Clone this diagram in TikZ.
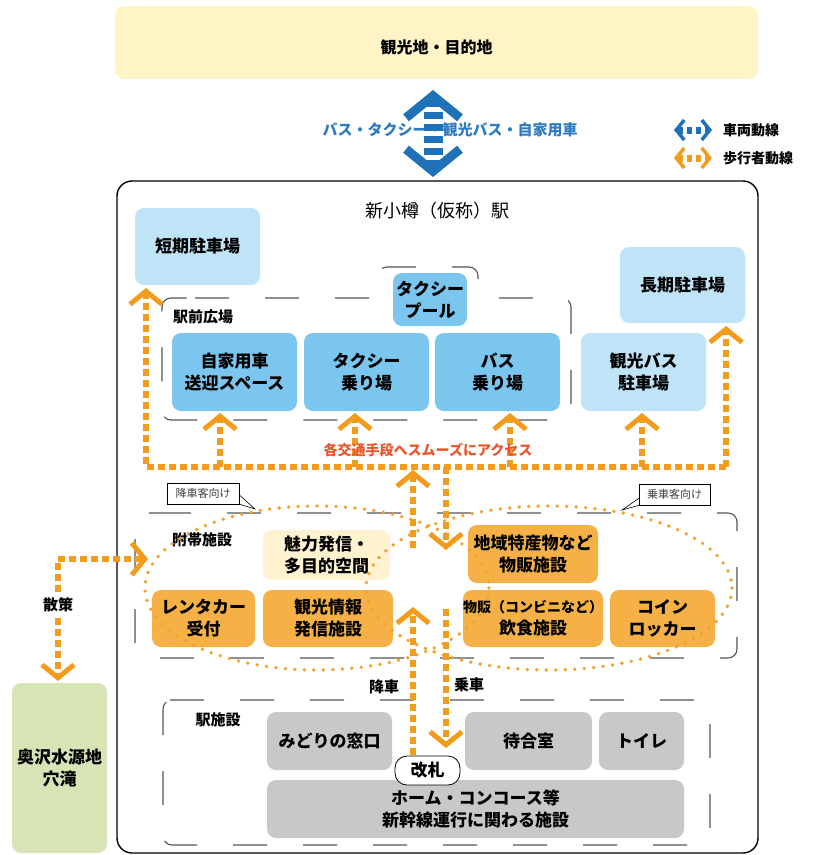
\documentclass[tikz,border=0pt]{standalone}
\usepackage{fontspec}
\setmainfont{Noto Sans CJK JP}
\usetikzlibrary{arrows.meta}
\definecolor{topy}{HTML}{FFF4C6}
\definecolor{lblue}{HTML}{BFE3F7}
\definecolor{mblue}{HTML}{7AC6EE}
\definecolor{orbox}{HTML}{F5B146}
\definecolor{lyel}{HTML}{FFF2CF}
\definecolor{grayb}{HTML}{C8C8C8}
\definecolor{greenb}{HTML}{D6E4B6}
\definecolor{pedc}{HTML}{F39B1C}
\definecolor{vehc}{HTML}{1F72B8}
\definecolor{vtext}{HTML}{2E7BC0}
\definecolor{acc}{HTML}{E8562C}
\definecolor{dotc}{HTML}{F2A22C}
\definecolor{grpc}{HTML}{555555}
\newcommand\bxf{\fontsize{17}{22}\selectfont\bfseries}
\newcommand\lbf{\fontsize{15}{18}\selectfont\bfseries}
\begin{document}
\begin{tikzpicture}[x=1pt,y=-1pt,
  bx/.style={rounded corners=9pt, inner sep=0pt, align=center, font=\bxf, text=black},
  grp/.style={draw=grpc, line width=1.1pt, dash pattern=on 34pt off 36pt, rounded corners=9pt},
  ped/.style={draw=pedc, line width=6.5pt, dash pattern=on 7pt off 4pt},
  ptip/.tip={Straight Barb[length=13pt,width=32pt,line width=5pt]},
  vtip/.tip={Straight Barb[length=22pt,width=54pt,line width=9pt]},
  ltip/.tip={Straight Barb[length=8pt,width=20pt,line width=3.5pt]},
  dots/.style={draw=dotc, line width=3.8pt, line cap=round, dash pattern=on 0pt off 9.5pt},
  lbl/.style={font=\lbf, inner sep=0pt},
  callout/.style={draw=black, fill=white, line width=0.6pt, font=\fontsize{11}{13}\selectfont, text=black!75, inner sep=0pt, minimum height=21pt}
]
\useasboundingbox (0,0) rectangle (828,855);

% top destination
\node[bx, fill=topy, minimum width=643pt, minimum height=73pt] (dest) at (436.5,42.5) {};
\node[font=\fontsize{16}{19}\selectfont\bfseries, inner sep=0pt] (destt) at (436.5,47) {観光地・目的地};

% blue vehicle text + arrow
\node[font=\fontsize{15}{18}\selectfont\bfseries, text=vtext, inner sep=0pt] (vlab) at (450,130) {バス・タクシー・観光バス・自家用車};
\coordinate (vt) at (433,90);
\coordinate (vb) at (433,177);
\draw[draw=vehc, line width=19pt, dash pattern=on 7pt off 5pt, {vtip}-{vtip}] (vt) -- (vb);

% legend
\coordinate (lb1) at (674,130); \coordinate (lb2) at (712,130);
\coordinate (lo1) at (674,158); \coordinate (lo2) at (712,158);
\draw[draw=vehc, line width=7pt, dash pattern=on 5pt off 4pt, {ltip}-{ltip}] (lb1) -- (lb2);
\draw[draw=pedc, line width=7pt, dash pattern=on 5pt off 4pt, {ltip}-{ltip}] (lo1) -- (lo2);
\node[anchor=west, font=\fontsize{14}{17}\selectfont\bfseries, inner sep=0pt] (leg1) at (723,130) {車両動線};
\node[anchor=west, font=\fontsize{14}{17}\selectfont\bfseries, inner sep=0pt] (leg2) at (723,158) {歩行者動線};

% station frame
\draw[line width=1.4pt, rounded corners=15pt] (117,181) rectangle (758,853);
\node[font=\fontsize{18}{22}\selectfont, inner sep=0pt] (title) at (437,211) {新小樽（仮称）駅};

% groups
\draw[grp] (195,298) -- (378,298) -- (378,267) -- (478,267) -- (478,298) -- (571,298) -- (571,420) -- (162,420) -- (162,298) -- (195,298);
\draw[grp] (157,513) -- (737,513) -- (737,658) -- (135,658) -- (135,513) -- (157,513);
\draw[grp] (170,700) -- (710,700) -- (710,845) -- (163,845) -- (163,700) -- (170,700);

\node[lbl] (lekimae) at (203,317) {駅前広場};
\node[lbl] (lfuku) at (202,540) {附帯施設};
\node[lbl] (leki) at (218,720) {駅施設};

% parking / plaza boxes
\node[bx, fill=lblue, minimum width=125pt, minimum height=77pt] (tanki) at (197.5,246.5) {短期駐車場};
\node[bx, fill=lblue, minimum width=125pt, minimum height=76pt] (choki) at (682.5,285) {長期駐車場};
\node[bx, fill=mblue, minimum width=74pt, minimum height=53pt] (pool) at (430,299.5) {タクシー\\プール};
\node[bx, fill=mblue, minimum width=125pt, minimum height=78pt] (jika) at (234.5,372) {自家用車\\送迎スペース};
\node[bx, fill=mblue, minimum width=125pt, minimum height=78pt] (taxi) at (366.5,372) {タクシー\\乗り場};
\node[bx, fill=mblue, minimum width=125pt, minimum height=78pt] (bus) at (497.5,372) {バス\\乗り場};
\node[bx, fill=lblue, minimum width=125pt, minimum height=78pt] (kbus) at (643.5,372) {観光バス\\駐車場};

% ancillary facilities
\node[bx, fill=lyel, minimum width=127pt, minimum height=50pt] (miryoku) at (326.5,555) {魅力発信・\\多目的空間};
\node[bx, fill=orbox, minimum width=103pt, minimum height=57pt] (renta) at (203.5,618.5) {レンタカー\\受付};
\node[bx, fill=orbox, minimum width=130pt, minimum height=57pt] (kanjo) at (328,618.5) {観光情報\\発信施設};
\node[bx, fill=orbox, minimum width=130pt, minimum height=58pt] (chiiki) at (533,554) {地域特産物など\\物販施設};
\node[bx, fill=orbox, minimum width=130pt, minimum height=57pt] (buppan) at (533,618.5) {{\fontsize{14}{22}\selectfont 物販（コンビニなど）}\\飲食施設};
\node[bx, fill=orbox, minimum width=105pt, minimum height=57pt] (coin) at (662.5,618.5) {コイン\\ロッカー};

% station facilities
\node[bx, fill=grayb, minimum width=125pt, minimum height=58pt] (midori) at (329.5,741) {みどりの窓口};
\node[bx, fill=grayb, minimum width=127pt, minimum height=58pt] (machi) at (528.5,741) {待合室};
\node[bx, fill=grayb, minimum width=85pt, minimum height=58pt] (toilet) at (641.5,741) {トイレ};
\node[bx, fill=grayb, minimum width=417pt, minimum height=58pt] (home) at (475.5,809) {ホーム・コンコース等\\新幹線運行に関わる施設};
\node[bx, fill=white, draw=black, line width=0.8pt, rounded corners=12pt, minimum width=65pt, minimum height=29pt] (kaisatsu) at (427.5,770.5) {改札};

% outside destination
\node[bx, fill=greenb, minimum width=95pt, minimum height=170pt] (oku) at (59.5,768) {奥沢水源地\\穴滝};

% dotted ellipses
\draw[dots] (317,588) ellipse [x radius=172, y radius=82];
\draw[dots] (549,588) ellipse [x radius=183, y radius=82];

% callouts
\draw[line width=0.6pt, fill=white] (226,500) -- (255,509) -- (236,492) -- cycle;
\node[callout, minimum width=72pt] (cko) at (203,493.5) {降車客向け};
\draw[line width=0.6pt, fill=white] (648,492) -- (622,510) -- (658,500) -- cycle;
\node[callout, minimum width=71pt] (cjo) at (674.5,494.5) {乗車客向け};

% pedestrian flows
\coordinate (hl) at (146,467);
\coordinate (hr) at (726,467);
\draw[ped, -{ptip}] (hr) -- (hl) -- (146,288);
\draw[ped, -{ptip}] (hr) -- (726,326);
\coordinate (a1) at (220,467); \coordinate (a1t) at (220,413);
\coordinate (a2) at (355,467); \coordinate (a2t) at (355,413);
\coordinate (a3) at (510,467); \coordinate (a3t) at (510,413);
\coordinate (a4) at (642,467); \coordinate (a4t) at (642,413);
\draw[ped, -{ptip}] (a1) -- (a1t);
\draw[ped, -{ptip}] (a2) -- (a2t);
\draw[ped, -{ptip}] (a3) -- (a3t);
\draw[ped, -{ptip}] (a4) -- (a4t);
\node[font=\fontsize{14}{17}\selectfont\bfseries, text=acc, inner sep=0pt] (access) at (428,450) {各交通手段へスムーズにアクセス};

\coordinate (c1b) at (413,548); \coordinate (c1t) at (413,470);
\coordinate (c2t) at (446,467); \coordinate (c2b) at (446,550);
\draw[ped, -{ptip}] (c1b) -- (c1t);
\draw[ped, -{ptip}] (c2t) -- (c2b);
\coordinate (d1b) at (413,755); \coordinate (d1t) at (413,607);
\coordinate (d2t) at (446,609); \coordinate (d2b) at (446,748);
\draw[ped, -{ptip}] (d1b) -- (d1t);
\draw[ped, -{ptip}] (d2t) -- (d2b);
\node[lbl] (kosha) at (384,687) {降車};
\node[lbl] (josha) at (469,685) {乗車};

% stroll
\coordinate (s1) at (148,559);
\coordinate (s2) at (58,559);
\coordinate (s3) at (58,681);
\draw[ped, {ptip}-{ptip}] (s1) -- (s2) -- (s3);
\node[lbl, fill=white, inner sep=2pt] (sansaku) at (58,605) {散策};
\end{tikzpicture}
\end{document}
